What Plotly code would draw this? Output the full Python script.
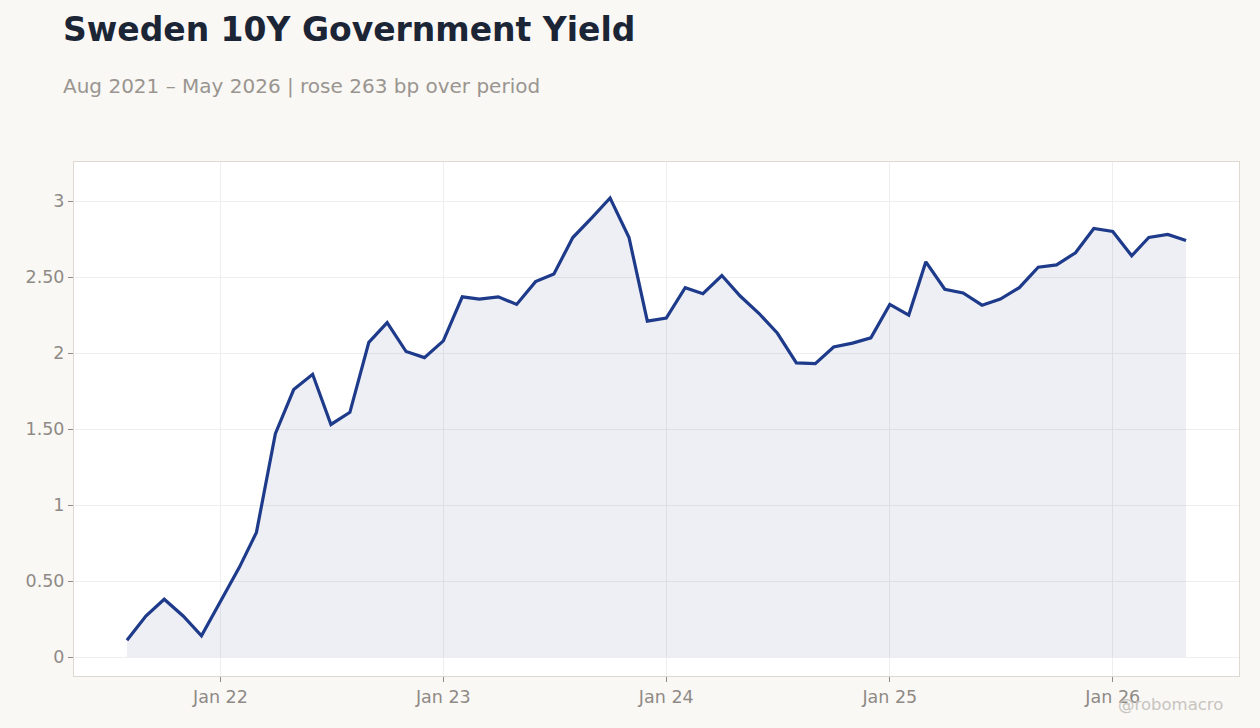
import pandas as pd
import plotly.graph_objects as go

# Monthly Sweden 10Y yield, Aug 2021 - May 2026 (%)
months = pd.date_range("2021-08-01", "2026-05-01", freq="MS")
yields = [
    0.11, 0.27, 0.38, 0.27, 0.14,
    0.36, 0.59, 0.82, 1.47, 1.76, 1.86, 1.53, 1.61, 2.07, 2.20, 2.01, 1.97,
    2.08, 2.37, 2.355, 2.37, 2.32, 2.47, 2.52, 2.76, 2.89, 3.02, 2.76, 2.21,
    2.23, 2.43, 2.39, 2.51, 2.375, 2.26, 2.13, 1.935, 1.93, 2.04, 2.065, 2.10,
    2.32, 2.25, 2.60, 2.42, 2.395, 2.315, 2.355, 2.43, 2.565, 2.58, 2.66, 2.82,
    2.80, 2.64, 2.76, 2.78, 2.74,
]
y_ticks = [0, 0.5, 1, 1.5, 2, 2.5, 3]
y_labels = ["0", "0.50", "1", "1.50", "2", "2.50", "3"]
x_ticks = ["2022-01-01", "2023-01-01", "2024-01-01", "2025-01-01", "2026-01-01"]
x_labels = ["Jan 22", "Jan 23", "Jan 24", "Jan 25", "Jan 26"]

fig = go.Figure()

fig.add_trace(go.Scatter(
    x=months,
    y=yields,
    mode="lines",
    line=dict(color="#1e3a8a", width=3.2),
    fill="tozeroy",
    fillcolor="rgba(35,55,125,0.08)",
    hoverinfo="x+y",
))

# 5% padding either side of the data span
span = months[-1] - months[0]
x_range = [months[0] - span * 0.05, months[-1] + span * 0.05]

fig.update_layout(
    width=1260,
    height=728,
    paper_bgcolor="#f9f8f5",
    plot_bgcolor="#ffffff",
    font=dict(family="DejaVu Sans", color="#8f8a85", size=17.5),
    margin=dict(l=74, r=21, t=162, b=52),
    showlegend=False,
    title=dict(
        text="<b>Sweden 10Y Government Yield</b>",
        x=0.05, xref="container", xanchor="left",
        y=0.975, yref="container", yanchor="top",
        font=dict(size=33, color="#1b2535"),
    ),
    annotations=[
        dict(
            text="Aug 2021 – May 2026 | rose 263 bp over period",
            xref="paper", yref="paper",
            x=-0.011, y=1.147, xanchor="left", yanchor="middle",
            showarrow=False,
            font=dict(size=20, color="#9a9590"),
        ),
        dict(
            text="@robomacro",
            xref="paper", yref="paper",
            x=0.9876, y=-0.056, xanchor="right", yanchor="middle",
            showarrow=False,
            font=dict(size=16.5, color="#c8c4bf"),
        ),
    ],
)

fig.update_xaxes(
    range=x_range,
    tickvals=x_ticks,
    ticktext=x_labels,
    showgrid=True,
    gridcolor="#eeeeef",
    ticks="outside",
    ticklen=5,
    tickcolor="#8f8a85",
    showline=True,
    linecolor="#ddd8d0",
    mirror=True,
    zeroline=False,
)
fig.update_yaxes(
    range=[-0.125, 3.257],
    tickvals=y_ticks,
    ticktext=y_labels,
    showgrid=True,
    gridcolor="#eeeeef",
    ticks="outside",
    ticklen=5,
    tickcolor="#8f8a85",
    showline=True,
    linecolor="#ddd8d0",
    mirror=True,
    zeroline=False,
)

fig.write_html(
    "out.html",
    config={"displayModeBar": False},
    post_script="document.body.style.margin='0';",
)
